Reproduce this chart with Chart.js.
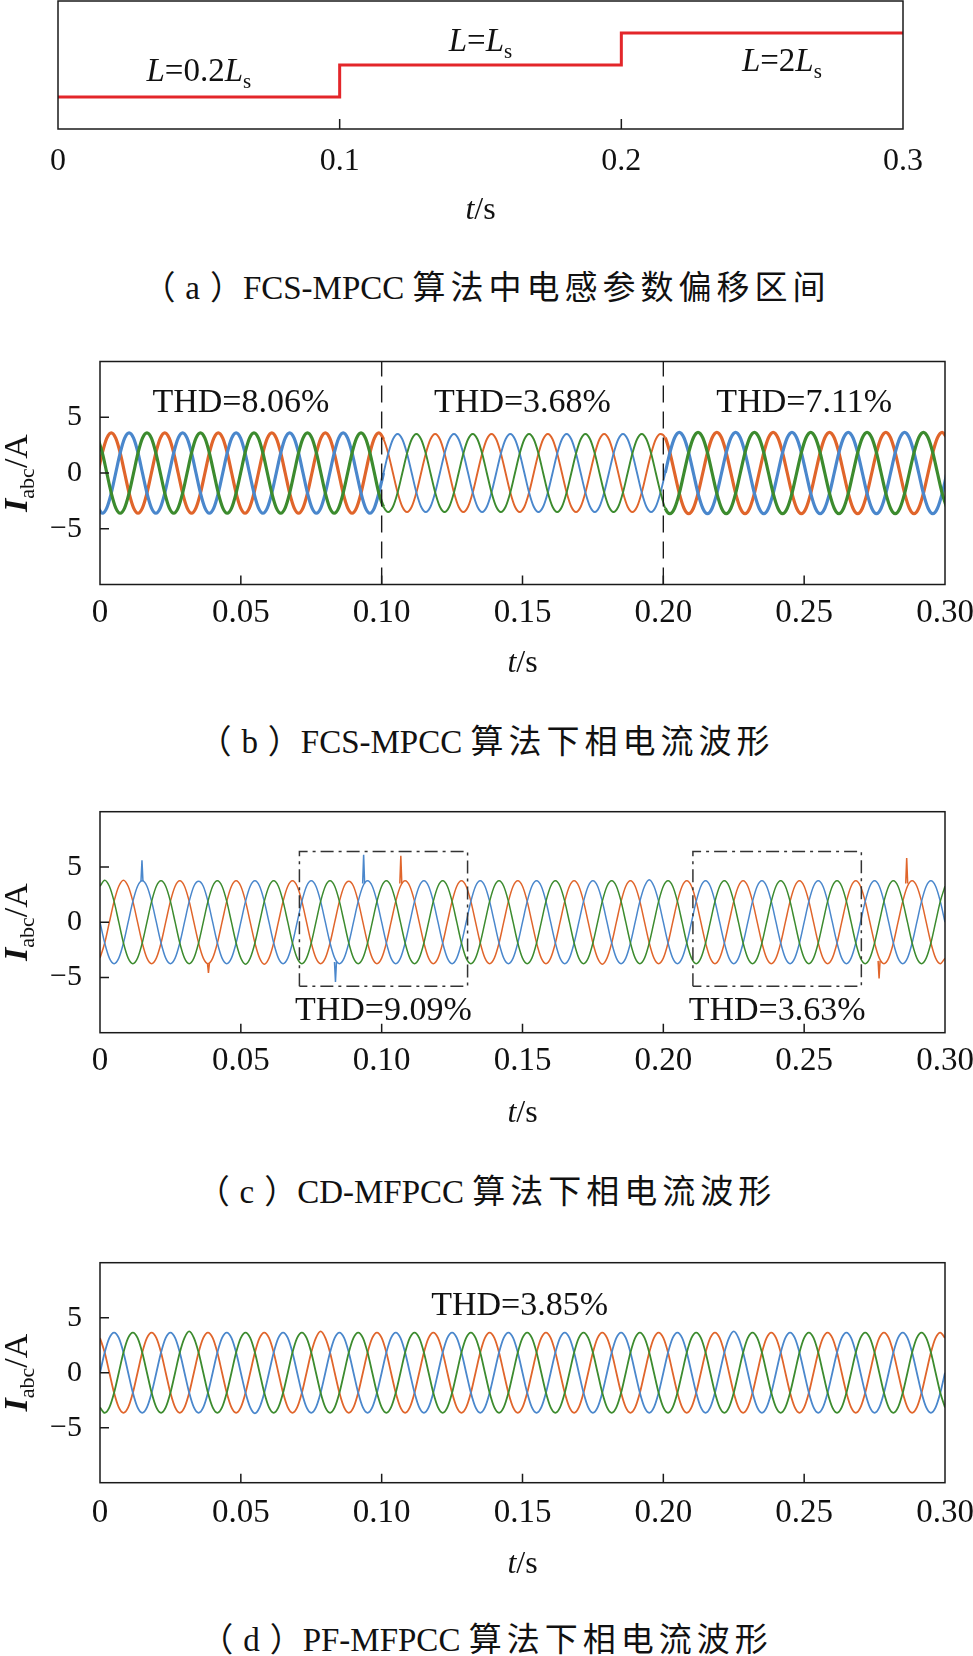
<!DOCTYPE html>
<html><head><meta charset="utf-8">
<script src="https://cdn.jsdelivr.net/npm/chart.js@4.4.1/dist/chart.umd.min.js"></script>
<style>
html,body{margin:0;padding:0;background:#fff;}
#page{position:relative;width:973px;height:1656px;overflow:hidden;background:#fff;}
canvas{position:absolute;left:0;}
.cap{position:absolute;left:0px;width:973px;text-align:center;font-size:33px;line-height:40px;color:#111;font-family:"Liberation Serif","Noto Sans CJK SC",serif;white-space:nowrap;}
.cap .zh{font-family:"Noto Sans CJK SC",sans-serif;letter-spacing:5px;}
.cap .po,.cap .pc{font-family:"Noto Sans CJK SC",sans-serif;display:inline-block;width:1em;text-align:center;}
.cap .po{padding-right:0.3em;}
.cap .pc{padding-left:0.3em;}
</style></head>
<body><div id="page">
<canvas id="ca" width="973" height="240" style="top:0px"></canvas>
<canvas id="cb" width="973" height="360" style="top:340px"></canvas>
<canvas id="cc" width="973" height="360" style="top:790px"></canvas>
<canvas id="cd" width="973" height="360" style="top:1240px"></canvas>
<div class="cap" style="top:265px"><span class="po">（</span>a<span class="pc">）</span>FCS-MPCC <span class="zh">算法中电感参数偏移区间</span></div>
<div class="cap" style="top:719px"><span class="po">（</span>b<span class="pc">）</span>FCS-MPCC <span class="zh">算法下相电流波形</span></div>
<div class="cap" style="top:1169px"><span class="po">（</span>c<span class="pc">）</span>CD-MFPCC <span class="zh">算法下相电流波形</span></div>
<div class="cap" style="top:1617px"><span class="po">（</span>d<span class="pc">）</span>PF-MFPCC <span class="zh">算法下相电流波形</span></div>
</div>
<script>
// ================= DATA =================
// ---- panel (a): inductance step (relative level: 0.2Ls -> 1, Ls -> 2, 2Ls -> 3)
const tA = [0, 100, 200, 300];           // ms
const levelA = [1, 2, 3, 3];
const xTicksA = [0, 100, 200, 300];
const xLabelsA = ['0', '0.1', '0.2', '0.3'];
const textA = ['*L*=0.2*L*_s', '*L*=*L*_s', '*L*=2*L*_s'];
const textAx = [50, 150, 257];
const textAy = [1.5, 2.45, 1.82];

// ---- common axes for (b)(c)(d)
const xTicksI = [0, 50, 100, 150, 200, 250, 300];
const xLabelsI = ['0', '0.05', '0.10', '0.15', '0.20', '0.25', '0.30'];
const yTicksI = [-5, 0, 5];
const yLabelsI = ['\u22125', '0', '5'];

// ---- panel (b): FCS-MPCC phase currents (time in ms)
const tB = [-0.75,0.83,2.42,
4,5.58,7.17,8.75,10.33,11.92,13.5,15.08,16.67,18.25,19.83,21.42,
23,24.58,26.17,27.75,29.33,30.92,32.5,34.08,35.67,37.25,38.83,40.42,
42,43.58,45.17,46.75,48.33,49.92,51.5,53.08,54.67,56.25,57.83,59.42,
61,62.58,64.17,65.75,67.33,68.92,70.5,72.08,73.67,75.25,76.83,78.42,
80,81.58,83.17,84.75,86.33,87.92,89.5,91.08,92.67,94.25,95.83,97.42,
99,
100.67,102.33,104,105.67,107.33,109,110.67,112.33,114,115.67,117.33,119,
120.67,122.33,124,125.67,127.33,129,130.67,132.33,134,135.67,137.33,139,
140.67,142.33,144,145.67,147.33,149,150.67,152.33,154,155.67,157.33,159,
160.67,162.33,164,165.67,167.33,169,170.67,172.33,174,175.67,177.33,179,
180.67,182.33,184,185.67,187.33,189,190.67,192.33,194,195.67,197.33,199,
200.67,202.33,204,205.67,207.33,209,210.67,212.33,214,215.67,217.33,219,
220.67,222.33,224,225.67,227.33,229,230.67,232.33,234,235.67,237.33,239,
240.67,242.33,244,245.67,247.33,249,250.67,252.33,254,255.67,257.33,259,
260.67,262.33,264,265.67,267.33,269,270.67,272.33,274,275.67,277.33,279,
280.67,282.33,284,285.67,287.33,289,290.67,292.33,294,295.67,297.33,299,
300.67];
const iaB = [0,1.8,3.12,
3.6,3.12,1.8,0,-1.8,-3.12,-3.6,-3.12,-1.8,0,1.8,3.12,
3.6,3.12,1.8,0,-1.8,-3.12,-3.6,-3.12,-1.8,0,1.8,3.12,
3.6,3.12,1.8,0,-1.8,-3.12,-3.6,-3.12,-1.8,0,1.8,3.12,
3.6,3.12,1.8,0,-1.8,-3.12,-3.6,-3.12,-1.8,0,1.8,3.12,
3.6,3.12,1.8,0,-1.8,-3.12,-3.6,-3.12,-1.8,0,1.8,3.12,
3.6,
3.03,1.75,0,-1.75,-3.03,-3.5,-3.03,-1.75,0,1.75,3.03,3.5,
3.03,1.75,0,-1.75,-3.03,-3.5,-3.03,-1.75,0,1.75,3.03,3.5,
3.03,1.75,0,-1.75,-3.03,-3.5,-3.03,-1.75,0,1.75,3.03,3.5,
3.03,1.75,0,-1.75,-3.03,-3.5,-3.03,-1.75,0,1.75,3.03,3.5,
3.03,1.75,0,-1.75,-3.03,-3.5,-3.03,-1.75,0,1.75,3.03,3.5,
3.16,1.83,0,-1.83,-3.16,-3.65,-3.16,-1.83,0,1.83,3.16,3.65,
3.16,1.83,0,-1.83,-3.16,-3.65,-3.16,-1.83,0,1.83,3.16,3.65,
3.16,1.83,0,-1.83,-3.16,-3.65,-3.16,-1.83,0,1.83,3.16,3.65,
3.16,1.83,0,-1.83,-3.16,-3.65,-3.16,-1.83,0,1.83,3.16,3.65,
3.16,1.83,0,-1.83,-3.16,-3.65,-3.16,-1.83,0,1.83,3.16,3.65,
3.16];
const ibB = [-3.12,-3.6,-3.12,
-1.8,0,1.8,3.12,3.6,3.12,1.8,0,-1.8,-3.12,-3.6,-3.12,
-1.8,0,1.8,3.12,3.6,3.12,1.8,0,-1.8,-3.12,-3.6,-3.12,
-1.8,0,1.8,3.12,3.6,3.12,1.8,0,-1.8,-3.12,-3.6,-3.12,
-1.8,0,1.8,3.12,3.6,3.12,1.8,0,-1.8,-3.12,-3.6,-3.12,
-1.8,0,1.8,3.12,3.6,3.12,1.8,0,-1.8,-3.12,-3.6,-3.12,
-1.8,
0,1.75,3.03,3.5,3.03,1.75,0,-1.75,-3.03,-3.5,-3.03,-1.75,
0,1.75,3.03,3.5,3.03,1.75,0,-1.75,-3.03,-3.5,-3.03,-1.75,
0,1.75,3.03,3.5,3.03,1.75,0,-1.75,-3.03,-3.5,-3.03,-1.75,
0,1.75,3.03,3.5,3.03,1.75,0,-1.75,-3.03,-3.5,-3.03,-1.75,
0,1.75,3.03,3.5,3.03,1.75,0,-1.75,-3.03,-3.5,-3.03,-1.75,
0,1.83,3.16,3.65,3.16,1.83,0,-1.83,-3.16,-3.65,-3.16,-1.83,
0,1.83,3.16,3.65,3.16,1.83,0,-1.83,-3.16,-3.65,-3.16,-1.83,
0,1.83,3.16,3.65,3.16,1.83,0,-1.83,-3.16,-3.65,-3.16,-1.83,
0,1.83,3.16,3.65,3.16,1.83,0,-1.83,-3.16,-3.65,-3.16,-1.83,
0,1.83,3.16,3.65,3.16,1.83,0,-1.83,-3.16,-3.65,-3.16,-1.83,
0];
const icB = [3.12,1.8,0,
-1.8,-3.12,-3.6,-3.12,-1.8,0,1.8,3.12,3.6,3.12,1.8,0,
-1.8,-3.12,-3.6,-3.12,-1.8,0,1.8,3.12,3.6,3.12,1.8,0,
-1.8,-3.12,-3.6,-3.12,-1.8,0,1.8,3.12,3.6,3.12,1.8,0,
-1.8,-3.12,-3.6,-3.12,-1.8,0,1.8,3.12,3.6,3.12,1.8,0,
-1.8,-3.12,-3.6,-3.12,-1.8,0,1.8,3.12,3.6,3.12,1.8,0,
-1.8,
-3.03,-3.5,-3.03,-1.75,0,1.75,3.03,3.5,3.03,1.75,0,-1.75,
-3.03,-3.5,-3.03,-1.75,0,1.75,3.03,3.5,3.03,1.75,0,-1.75,
-3.03,-3.5,-3.03,-1.75,0,1.75,3.03,3.5,3.03,1.75,0,-1.75,
-3.03,-3.5,-3.03,-1.75,0,1.75,3.03,3.5,3.03,1.75,0,-1.75,
-3.03,-3.5,-3.03,-1.75,0,1.75,3.03,3.5,3.03,1.75,0,-1.75,
-3.16,-3.65,-3.16,-1.83,0,1.83,3.16,3.65,3.16,1.83,0,-1.83,
-3.16,-3.65,-3.16,-1.83,0,1.83,3.16,3.65,3.16,1.83,0,-1.83,
-3.16,-3.65,-3.16,-1.83,0,1.83,3.16,3.65,3.16,1.83,0,-1.83,
-3.16,-3.65,-3.16,-1.83,0,1.83,3.16,3.65,3.16,1.83,0,-1.83,
-3.16,-3.65,-3.16,-1.83,0,1.83,3.16,3.65,3.16,1.83,0,-1.83,
-3.16];
const vLinesB = [100, 200];
const thdTextB = ['THD=8.06%', 'THD=3.68%', 'THD=7.11%'];
const thdXB = [50, 150, 250];
const thdYB = [5.48, 5.48, 5.48];

// ---- time grid for (c)(d), ms
const t50 = [0,1.67,3.33,5,6.67,8.33,10,11.67,13.33,15,16.67,18.33,
20,21.67,23.33,25,26.67,28.33,30,31.67,33.33,35,36.67,38.33,
40,41.67,43.33,45,46.67,48.33,50,51.67,53.33,55,56.67,58.33,
60,61.67,63.33,65,66.67,68.33,70,71.67,73.33,75,76.67,78.33,
80,81.67,83.33,85,86.67,88.33,90,91.67,93.33,95,96.67,98.33,
100,101.67,103.33,105,106.67,108.33,110,111.67,113.33,115,116.67,118.33,
120,121.67,123.33,125,126.67,128.33,130,131.67,133.33,135,136.67,138.33,
140,141.67,143.33,145,146.67,148.33,150,151.67,153.33,155,156.67,158.33,
160,161.67,163.33,165,166.67,168.33,170,171.67,173.33,175,176.67,178.33,
180,181.67,183.33,185,186.67,188.33,190,191.67,193.33,195,196.67,198.33,
200,201.67,203.33,205,206.67,208.33,210,211.67,213.33,215,216.67,218.33,
220,221.67,223.33,225,226.67,228.33,230,231.67,233.33,235,236.67,238.33,
240,241.67,243.33,245,246.67,248.33,250,251.67,253.33,255,256.67,258.33,
260,261.67,263.33,265,266.67,268.33,270,271.67,273.33,275,276.67,278.33,
280,281.67,283.33,285,286.67,288.33,290,291.67,293.33,295,296.67,298.33,
300];

// ---- panel (c): CD-MFPCC
const iaC = [
-3.25,-1.88,0,1.88,3.25,3.8,3.25,1.88,0,-1.88,-3.25,-3.75,
-3.25,-1.88,0,1.88,3.25,3.75,3.25,1.88,0,-1.88,-3.25,-3.75,
-3.25,-1.88,0,1.88,3.25,3.75,3.25,1.88,0,-1.88,-3.25,-3.8,
-3.25,-1.88,0,1.88,3.25,3.75,3.25,1.88,0,-1.88,-3.25,-3.75,
-3.25,-1.88,0,1.88,3.25,3.7,3.25,1.88,0,-1.88,-3.25,-3.75,
-3.25,-1.88,0,1.88,3.25,3.75,3.25,1.88,0,-1.88,-3.25,-3.75,
-3.25,-1.88,0,1.88,3.25,3.75,3.25,1.88,0,-1.88,-3.25,-3.75,
-3.25,-1.88,0,1.88,3.25,3.75,3.25,1.88,0,-1.88,-3.25,-3.75,
-3.25,-1.88,0,1.88,3.25,3.75,3.25,1.88,0,-1.88,-3.25,-3.8,
-3.25,-1.88,0,1.88,3.25,3.75,3.25,1.88,0,-1.88,-3.25,-3.75,
-3.25,-1.88,0,1.88,3.25,3.75,3.25,1.88,0,-1.88,-3.25,-3.75,
-3.25,-1.88,0,1.88,3.25,3.75,3.25,1.88,0,-1.88,-3.25,-3.75,
-3.25,-1.88,0,1.88,3.25,3.75,3.25,1.88,0,-1.88,-3.25,-3.75,
-3.25,-1.88,0,1.88,3.25,3.75,3.25,1.88,0,-1.88,-3.25,-3.75,
-3.25,-1.88,0,1.88,3.25,3.75,3.25,1.88,0,-1.88,-3.25,-3.75,
-3.25];
const ibC = [
0,-1.88,-3.25,-3.75,-3.25,-1.88,0,1.88,3.25,3.75,3.25,1.88,
0,-1.88,-3.25,-3.75,-3.25,-1.88,0,1.88,3.25,3.7,3.25,1.88,
0,-1.88,-3.25,-3.75,-3.25,-1.88,0,1.88,3.25,3.75,3.25,1.88,
0,-1.88,-3.25,-3.75,-3.25,-1.88,0,1.88,3.25,3.75,3.25,1.88,
0,-1.88,-3.25,-3.75,-3.25,-1.88,0,1.88,3.25,3.75,3.25,1.88,
0,-1.88,-3.25,-3.75,-3.25,-1.88,0,1.88,3.25,3.75,3.25,1.88,
0,-1.88,-3.25,-3.75,-3.25,-1.88,0,1.88,3.25,3.75,3.25,1.88,
0,-1.88,-3.25,-3.75,-3.25,-1.88,0,1.88,3.25,3.75,3.25,1.88,
0,-1.88,-3.25,-3.75,-3.25,-1.88,0,1.88,3.25,3.75,3.25,1.88,
0,-1.88,-3.25,-3.75,-3.25,-1.88,0,1.88,3.25,3.85,3.25,1.88,
0,-1.88,-3.25,-3.75,-3.25,-1.88,0,1.88,3.25,3.75,3.25,1.88,
0,-1.88,-3.25,-3.75,-3.25,-1.88,0,1.88,3.25,3.75,3.25,1.88,
0,-1.88,-3.25,-3.75,-3.25,-1.88,0,1.88,3.25,3.75,3.25,1.88,
0,-1.88,-3.25,-3.75,-3.25,-1.88,0,1.88,3.25,3.75,3.25,1.88,
0,-1.88,-3.25,-3.75,-3.25,-1.88,0,1.88,3.25,3.75,3.25,1.88,
0];
const icC = [
3.25,3.8,3.25,1.88,0,-1.88,-3.25,-3.75,-3.25,-1.88,0,1.88,
3.25,3.75,3.25,1.88,0,-1.88,-3.25,-3.75,-3.25,-1.88,0,1.88,
3.25,3.75,3.25,1.88,0,-1.88,-3.25,-3.8,-3.25,-1.88,0,1.88,
3.25,3.75,3.25,1.88,0,-1.88,-3.25,-3.75,-3.25,-1.88,0,1.88,
3.25,3.75,3.25,1.88,0,-1.88,-3.25,-3.75,-3.25,-1.88,0,1.88,
3.25,3.75,3.25,1.88,0,-1.88,-3.25,-3.75,-3.25,-1.88,0,1.88,
3.25,3.75,3.25,1.88,0,-1.88,-3.25,-3.75,-3.25,-1.88,0,1.88,
3.25,3.75,3.25,1.88,0,-1.88,-3.25,-3.75,-3.25,-1.88,0,1.88,
3.25,3.75,3.25,1.88,0,-1.88,-3.25,-3.75,-3.25,-1.88,0,1.88,
3.25,3.75,3.25,1.88,0,-1.88,-3.25,-3.75,-3.25,-1.88,0,1.88,
3.25,3.75,3.25,1.88,0,-1.88,-3.25,-3.75,-3.25,-1.88,0,1.88,
3.25,3.75,3.25,1.88,0,-1.88,-3.25,-3.75,-3.25,-1.88,0,1.88,
3.25,3.75,3.25,1.88,0,-1.88,-3.25,-3.75,-3.25,-1.88,0,1.88,
3.25,3.75,3.25,1.88,0,-1.88,-3.25,-3.75,-3.25,-1.88,0,1.88,
3.25,3.75,3.25,1.88,0,-1.88,-3.25,-3.75,-3.25,-1.88,0,1.88,
3.25];
// transient spikes in (c): time (ms), local level, spike tip, phase
const spkT = [14.9, 38.5, 83.6, 93.6, 106.8, 276.6, 286.4];
const spkBase = [3.7, -3.7, -3.6, 3.5, 3.5, -3.5, 3.5];
const spkTip = [5.6, -4.6, -5.4, 6.1, 6.0, -5.1, 5.8];
const spkPhase = ['b', 'a', 'b', 'b', 'a', 'a', 'a'];
// dash-dot windows in (c)
const boxT0 = [70.8, 210.5];
const boxT1 = [130.5, 270.3];
const boxLo = [-5.8, -5.8];
const boxHi = [6.4, 6.4];
const thdTextC = ['THD=9.09%', 'THD=3.63%'];
const thdXC = [100.6, 240.4];
const thdYC = [-8.83, -8.83];

// ---- panel (d): PF-MFPCC
const iaD = [
3.16,1.83,0,-1.83,-3.16,-3.65,-3.16,-1.83,0,1.83,3.16,3.65,
3.16,1.83,0,-1.83,-3.16,-3.65,-3.16,-1.83,0,1.83,3.16,3.65,
3.16,1.83,0,-1.83,-3.16,-3.65,-3.16,-1.83,0,1.83,3.16,3.65,
3.16,1.83,0,-1.83,-3.16,-3.65,-3.16,-1.83,0,1.83,3.16,3.75,
3.16,1.83,0,-1.83,-3.16,-3.65,-3.16,-1.83,0,1.83,3.16,3.65,
3.16,1.83,0,-1.83,-3.16,-3.65,-3.16,-1.83,0,1.83,3.16,3.65,
3.16,1.83,0,-1.83,-3.16,-3.65,-3.16,-1.83,0,1.83,3.16,3.65,
3.16,1.83,0,-1.83,-3.16,-3.65,-3.16,-1.83,0,1.83,3.16,3.65,
3.16,1.83,0,-1.83,-3.16,-3.65,-3.16,-1.83,0,1.83,3.16,3.65,
3.16,1.83,0,-1.83,-3.16,-3.65,-3.16,-1.83,0,1.83,3.16,3.65,
3.16,1.83,0,-1.83,-3.16,-3.65,-3.16,-1.83,0,1.83,3.16,3.65,
3.16,1.83,0,-1.83,-3.16,-3.65,-3.16,-1.83,0,1.83,3.16,3.65,
3.16,1.83,0,-1.83,-3.16,-3.65,-3.16,-1.83,0,1.83,3.16,3.65,
3.16,1.83,0,-1.83,-3.16,-3.65,-3.16,-1.83,0,1.83,3.16,3.65,
3.16,1.83,0,-1.83,-3.16,-3.65,-3.16,-1.83,0,1.83,3.16,3.65,
3.16];
const ibD = [
0,1.83,3.16,3.65,3.16,1.83,0,-1.83,-3.16,-3.65,-3.16,-1.83,
0,1.83,3.16,3.65,3.16,1.83,0,-1.83,-3.16,-3.65,-3.16,-1.83,
0,1.83,3.16,3.65,3.16,1.83,0,-1.83,-3.16,-3.7,-3.16,-1.83,
0,1.83,3.16,3.65,3.16,1.83,0,-1.83,-3.16,-3.65,-3.16,-1.83,
0,1.83,3.16,3.65,3.16,1.83,0,-1.83,-3.16,-3.65,-3.16,-1.83,
0,1.83,3.16,3.65,3.16,1.83,0,-1.83,-3.16,-3.65,-3.16,-1.83,
0,1.83,3.16,3.65,3.16,1.83,0,-1.83,-3.16,-3.65,-3.16,-1.83,
0,1.83,3.16,3.65,3.16,1.83,0,-1.83,-3.16,-3.65,-3.16,-1.83,
0,1.83,3.16,3.65,3.16,1.83,0,-1.83,-3.16,-3.65,-3.16,-1.83,
0,1.83,3.16,3.65,3.16,1.83,0,-1.83,-3.16,-3.65,-3.16,-1.83,
0,1.83,3.16,3.65,3.16,1.83,0,-1.83,-3.16,-3.65,-3.16,-1.83,
0,1.83,3.16,3.75,3.16,1.83,0,-1.83,-3.16,-3.65,-3.16,-1.83,
0,1.83,3.16,3.65,3.16,1.83,0,-1.83,-3.16,-3.65,-3.16,-1.83,
0,1.83,3.16,3.65,3.16,1.83,0,-1.83,-3.16,-3.65,-3.16,-1.83,
0,1.83,3.16,3.65,3.16,1.83,0,-1.83,-3.16,-3.65,-3.16,-1.83,
0];
const icD = [
-3.16,-3.65,-3.16,-1.83,0,1.83,3.16,3.65,3.16,1.83,0,-1.83,
-3.16,-3.65,-3.16,-1.83,0,1.83,3.16,3.75,3.16,1.83,0,-1.83,
-3.16,-3.65,-3.16,-1.83,0,1.83,3.16,3.65,3.16,1.83,0,-1.83,
-3.16,-3.65,-3.16,-1.83,0,1.83,3.16,3.65,3.16,1.83,0,-1.83,
-3.16,-3.65,-3.16,-1.83,0,1.83,3.16,3.65,3.16,1.83,0,-1.83,
-3.16,-3.65,-3.16,-1.83,0,1.83,3.16,3.65,3.16,1.83,0,-1.83,
-3.16,-3.65,-3.16,-1.83,0,1.83,3.16,3.65,3.16,1.83,0,-1.83,
-3.16,-3.65,-3.16,-1.83,0,1.83,3.16,3.65,3.16,1.83,0,-1.83,
-3.16,-3.65,-3.16,-1.83,0,1.83,3.16,3.65,3.16,1.83,0,-1.83,
-3.16,-3.65,-3.16,-1.83,0,1.83,3.16,3.65,3.16,1.83,0,-1.83,
-3.16,-3.65,-3.16,-1.83,0,1.83,3.16,3.65,3.16,1.83,0,-1.83,
-3.16,-3.65,-3.16,-1.83,0,1.83,3.16,3.65,3.16,1.83,0,-1.83,
-3.16,-3.65,-3.16,-1.83,0,1.83,3.16,3.65,3.16,1.83,0,-1.83,
-3.16,-3.65,-3.16,-1.83,0,1.83,3.16,3.65,3.16,1.83,0,-1.83,
-3.16,-3.65,-3.16,-1.83,0,1.83,3.16,3.65,3.16,1.83,0,-1.83,
-3.16];
const thdTextD = ['THD=3.85%'];
const thdXD = [149];
const thdYD = [5.25];

// ================= STYLE =================
const FONT = '"Liberation Serif", "Times New Roman", serif';
const ORANGE = '#E0652B', BLUE = '#4A87CC', GREEN = '#3C8B2E', RED = '#E3262A', INK = '#1a1a1a';
const PH = {a: ORANGE, b: BLUE, c: GREEN};
Chart.defaults.font.family = FONT;
Chart.defaults.color = '#111';

function parseRich(s) { // '*' italic toggle, '!' bold toggle, '_x' / '_{xyz}' subscript
  const runs = []; let it = false, bd = false, buf = '', i = 0;
  const flush = () => { if (buf) runs.push({t: buf, it, bd, sub: false}); buf = ''; };
  while (i < s.length) {
    const c = s[i];
    if (c === '*') { flush(); it = !it; i++; continue; }
    if (c === '!') { flush(); bd = !bd; i++; continue; }
    if (c === '_') {
      flush(); let sub;
      if (s[i + 1] === '{') { const j = s.indexOf('}', i); sub = s.slice(i + 2, j); i = j + 1; }
      else { sub = s[i + 1]; i += 2; }
      runs.push({t: sub, it: false, bd: false, sub: true}); continue;
    }
    buf += c; i++;
  }
  flush();
  return runs;
}
function drawRich(ctx, str, x, y, size, rot) {
  const runs = parseRich(str);
  const subSize = Math.round(size * 0.64), dy = size * 0.22;
  const f = r => `${r.it ? 'italic ' : ''}${r.bd ? 'bold ' : ''}${r.sub ? subSize : size}px ${FONT}`;
  ctx.save(); ctx.translate(x, y); ctx.rotate(rot || 0);
  ctx.textBaseline = 'alphabetic'; ctx.textAlign = 'left';
  let w = 0; runs.forEach(r => { ctx.font = f(r); r.w = ctx.measureText(r.t).width; w += r.w; });
  let cx = -w / 2;
  runs.forEach(r => { ctx.font = f(r); ctx.fillText(r.t, cx, r.sub ? dy : 0); cx += r.w; });
  ctx.restore();
}

const decoPlugin = {
  id: 'deco',
  afterDatasetsDraw(chart, args, o) {
    const {ctx, chartArea: a, scales: {x, y}} = chart;
    ctx.save();
    ctx.strokeStyle = INK; ctx.lineWidth = 1.5;
    ctx.strokeRect(a.left, a.top, a.right - a.left, a.bottom - a.top);
    ctx.beginPath();
    o.xTicks.forEach(v => { if (v > x.min && v < x.max) { const p = x.getPixelForValue(v); ctx.moveTo(p, a.bottom); ctx.lineTo(p, a.bottom - o.tickLen); } });
    o.yTicks.forEach(v => { if (v > y.min && v < y.max) { const p = y.getPixelForValue(v); ctx.moveTo(a.left, p); ctx.lineTo(a.left + o.tickLen, p); } });
    ctx.stroke();
    ctx.fillStyle = '#111';
    o.labels.forEach(L => drawRich(ctx, L.text, x.getPixelForValue(L.x), y.getPixelForValue(L.y), L.size, 0));
    if (o.xTitle) drawRich(ctx, o.xTitle.text, (a.left + a.right) / 2, o.xTitle.base - o.top, o.xTitle.size, 0);
    if (o.yTitle) drawRich(ctx, o.yTitle.text, o.yTitle.base, y.getPixelForValue(0), o.yTitle.size, -Math.PI / 2);
    ctx.restore();
  }
};

const xy = (t, v) => t.map((ti, i) => ({x: ti, y: v[i]}));
const mkLabels = (texts, xs, ys, size) => texts.map((t, i) => ({text: t, x: xs[i], y: ys[i], size}));
const noPad = s => { s.paddingTop = 0; s.paddingBottom = 0; s.paddingLeft = 0; s.paddingRight = 0; };

function makeChart(id, P) {
  return new Chart(document.getElementById(id), {
    type: 'line',
    data: {datasets: P.datasets},
    options: {
      responsive: false, animation: false, devicePixelRatio: 1,
      layout: {autoPadding: false, padding: {left: 0, right: 973 - P.right, top: P.areaTop - P.top, bottom: 0}},
      elements: {point: {radius: 0}},
      plugins: {legend: {display: false}, tooltip: {enabled: false}, title: {display: false},
        deco: {top: P.top, xTicks: P.xTicks, yTicks: P.yTicks, tickLen: P.tickLen, labels: P.labels, xTitle: P.xTitle, yTitle: P.yTitle}},
      scales: {
        x: {type: 'linear', position: 'bottom', min: P.xMin, max: P.xMax,
          grid: {display: false, drawTicks: false}, border: {display: false},
          afterFit: s => { s.height = P.top + P.height - P.areaBottom; noPad(s); },
          afterBuildTicks: s => { s.ticks = P.xTicks.map(v => ({value: v})); },
          ticks: {autoSkip: false, maxRotation: 0, minRotation: 0, padding: P.xPad, color: '#111',
            font: {size: P.xFont, lineHeight: 1.2}, callback: (v, i) => P.xLabels[i]}},
        y: {type: 'linear', position: 'left', min: P.yMin, max: P.yMax,
          grid: {display: false, drawTicks: false}, border: {display: false},
          afterFit: s => { s.width = P.left; noPad(s); },
          afterBuildTicks: s => { s.ticks = P.yTicks.map(v => ({value: v})); },
          ticks: {display: P.yTicks.length > 0, autoSkip: false, padding: 18, color: '#111',
            font: {size: 30, lineHeight: 1.2}, callback: (v, i) => P.yLabels[i]}}
      }
    },
    plugins: [decoPlugin]
  });
}

function waveSets(t, ia, ib, ic, widthFn, w) {
  const base = {pointRadius: 0, cubicInterpolationMode: 'monotone', borderWidth: w, fill: false};
  const seg = widthFn ? {segment: {borderWidth: widthFn}} : {};
  return [
    Object.assign({data: xy(t, ic), borderColor: GREEN}, base, seg),
    Object.assign({data: xy(t, ib), borderColor: BLUE}, base, seg),
    Object.assign({data: xy(t, ia), borderColor: ORANGE}, base, seg)
  ];
}

// ---- (a)
makeChart('ca', {
  top: 0, height: 240, areaTop: 1, areaBottom: 129, left: 58, right: 903,
  xMin: 0, xMax: 300, yMin: 0, yMax: 4, xTicks: xTicksA, xLabels: xLabelsA, yTicks: [], yLabels: [],
  xFont: 32, xPad: 13.8, tickLen: 10,
  labels: mkLabels(textA, textAx, textAy, 33),
  xTitle: {text: '*t*/s', base: 218.5, size: 32},
  datasets: [{data: xy(tA, levelA), stepped: 'before', borderColor: RED, borderWidth: 3, pointRadius: 0}]
});

// ---- (b)
const segWB = ctx => { const x0 = ctx.p0.parsed.x; return (x0 >= 99.5 && x0 < 199.5) ? 1.9 : 3.2; };
makeChart('cb', {
  top: 340, height: 360, areaTop: 361.5, areaBottom: 584.5, left: 100, right: 945,
  xMin: 0, xMax: 300, yMin: -10, yMax: 10, xTicks: xTicksI, xLabels: xLabelsI, yTicks: yTicksI, yLabels: yLabelsI,
  xFont: 33, xPad: 8.7, tickLen: 9,
  labels: mkLabels(thdTextB, thdXB, thdYB, 34),
  xTitle: {text: '*t*/s', base: 671.7, size: 32},
  yTitle: {text: '!*I*!_{abc}/A', base: 27, size: 34},
  datasets: vLinesB.map(t => ({data: [{x: t, y: -10}, {x: t, y: 10}], borderColor: INK, borderWidth: 1.4, borderDash: [17, 9], pointRadius: 0}))
    .concat(waveSets(tB, iaB, ibB, icB, segWB, 3.2))
});

// ---- (c)
makeChart('cc', {
  top: 790, height: 360, areaTop: 811.7, areaBottom: 1032.7, left: 100, right: 945,
  xMin: 0, xMax: 300, yMin: -10, yMax: 10, xTicks: xTicksI, xLabels: xLabelsI, yTicks: yTicksI, yLabels: yLabelsI,
  xFont: 33, xPad: 9.2, tickLen: 9,
  labels: mkLabels(thdTextC, thdXC, thdYC, 34),
  xTitle: {text: '*t*/s', base: 1121.7, size: 32},
  yTitle: {text: '!*I*!_{abc}/A', base: 27, size: 34},
  datasets: boxT0.map((t0, i) => ({data: [{x: t0, y: boxLo[i]}, {x: t0, y: boxHi[i]}, {x: boxT1[i], y: boxHi[i]}, {x: boxT1[i], y: boxLo[i]}, {x: t0, y: boxLo[i]}],
      borderColor: '#333', borderWidth: 1.5, borderDash: [13, 5, 3, 5], pointRadius: 0}))
    .concat(spkT.map((t, i) => ({data: [{x: t - 0.35, y: spkBase[i]}, {x: t, y: spkTip[i]}, {x: t + 0.35, y: spkBase[i]}],
      borderColor: PH[spkPhase[i]], borderWidth: 1.5, pointRadius: 0})))
    .concat(waveSets(t50, iaC, ibC, icC, null, 1.5))
});

// ---- (d)
makeChart('cd', {
  top: 1240, height: 360, areaTop: 1262.7, areaBottom: 1482.7, left: 100, right: 945,
  xMin: 0, xMax: 300, yMin: -10, yMax: 10, xTicks: xTicksI, xLabels: xLabelsI, yTicks: yTicksI, yLabels: yLabelsI,
  xFont: 33, xPad: 10.8, tickLen: 9,
  labels: mkLabels(thdTextD, thdXD, thdYD, 34),
  xTitle: {text: '*t*/s', base: 1573, size: 32},
  yTitle: {text: '!*I*!_{abc}/A', base: 27, size: 34},
  datasets: waveSets(t50, iaD, ibD, icD, null, 1.8)
});
</script>
</body></html>
